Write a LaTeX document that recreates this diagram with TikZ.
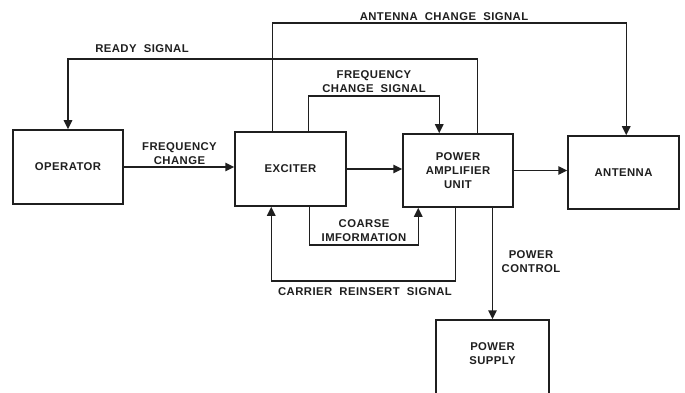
\documentclass[tikz,border=0pt]{standalone}
\usepackage{fontspec}
\setmainfont{Liberation Sans}[LetterSpace=4]
\usetikzlibrary{arrows.meta}
\newcommand{\dlbl}{\fontsize{11.3}{14}\selectfont\bfseries}
\begin{document}
\begin{tikzpicture}[x=1pt,y=-1pt,
  line width=1.5pt,
  color=black!88,
  box/.style={draw, rectangle, minimum width=110pt, minimum height=74pt, inner sep=0pt, align=center, font=\dlbl},
  lab/.style={align=center, font=\dlbl, inner sep=0pt},
  arr/.style={-{Triangle[length=9pt,width=8.5pt]}},
]
\fill[white] (0,0) rectangle (685,393);
\useasboundingbox (0,0) rectangle (685,393);

% boxes
\node[box] (op) at (68,167) {OPERATOR};
\node[box, minimum width=111pt] (ex) at (290.5,169) {EXCITER};
\node[box, minimum height=73pt] (pa) at (458,170.5) {POWER\\AMPLIFIER\\UNIT};
\node[box, minimum width=111pt, minimum height=73pt] (ant) at (623.5,172.5) {ANTENNA};
\begin{scope}
  \clip (0,0) rectangle (685,393);
  \node[box, minimum width=113pt, minimum height=80pt] (ps) at (492.5,360) {};
\end{scope}
\node[lab] (pstext) at ([yshift=6.5pt]ps.center) {POWER\\SUPPLY};

% helper coordinates
\coordinate (rdy) at (0,59);
\coordinate (acy) at (0,23);
\coordinate (fcy) at (0,96);
\coordinate (cy) at (0,245);
\coordinate (cry) at (0,281);
\coordinate (pard) at ([xshift=75pt]pa.north west);
\coordinate (exa) at ([xshift=38pt]ex.north west);
\coordinate (antin) at ([xshift=59pt]ant.north west);
\coordinate (exf) at ([xshift=74pt]ex.north west);
\coordinate (paf) at ([xshift=37pt]pa.north west);
\coordinate (exc) at ([xshift=75pt]ex.south west);
\coordinate (pac) at ([xshift=16pt]pa.south west);
\coordinate (pacr) at ([xshift=53pt]pa.south west);
\coordinate (excr) at ([xshift=37pt]ex.south west);

% connectors
\draw[arr] (op.east) -- (op.east -| ex.west);
\draw[arr] (ex.east) -- (ex.east -| pa.west);
\draw[arr] (pa.east) -- (pa.east -| ant.west);
\draw[arr] (pard) |- (op.north |- rdy) -- (op.north);
\draw[arr] (exa) |- (antin |- acy) -- (antin);
\draw[arr] (exf) |- (paf |- fcy) -- (paf);
\draw[arr] (exc) |- (pac |- cy) -- (pac);
\draw[arr] (pacr) |- (excr |- cry) -- (excr);
\draw[arr] (pa.south -| ps.north) -- (ps.north);

% labels
\node[lab] (lrdy) at (142,49) {READY\ \ SIGNAL};
\node[lab] (lacs) at (444,17) {ANTENNA\ \ CHANGE\ \ SIGNAL};
\node[lab] (lfcs) at (374,82) {FREQUENCY\\CHANGE\ \ SIGNAL};
\node[lab] (lfc) at (179.5,153.5) {FREQUENCY\\CHANGE};
\node[lab] (lci) at (364,231) {COARSE\\IMFORMATION};
\node[lab] (lcrs) at (365,292) {CARRIER\ \ REINSERT\ \ SIGNAL};
\node[lab] (lpc) at (531,261.5) {POWER\\CONTROL};
\end{tikzpicture}
\end{document}
